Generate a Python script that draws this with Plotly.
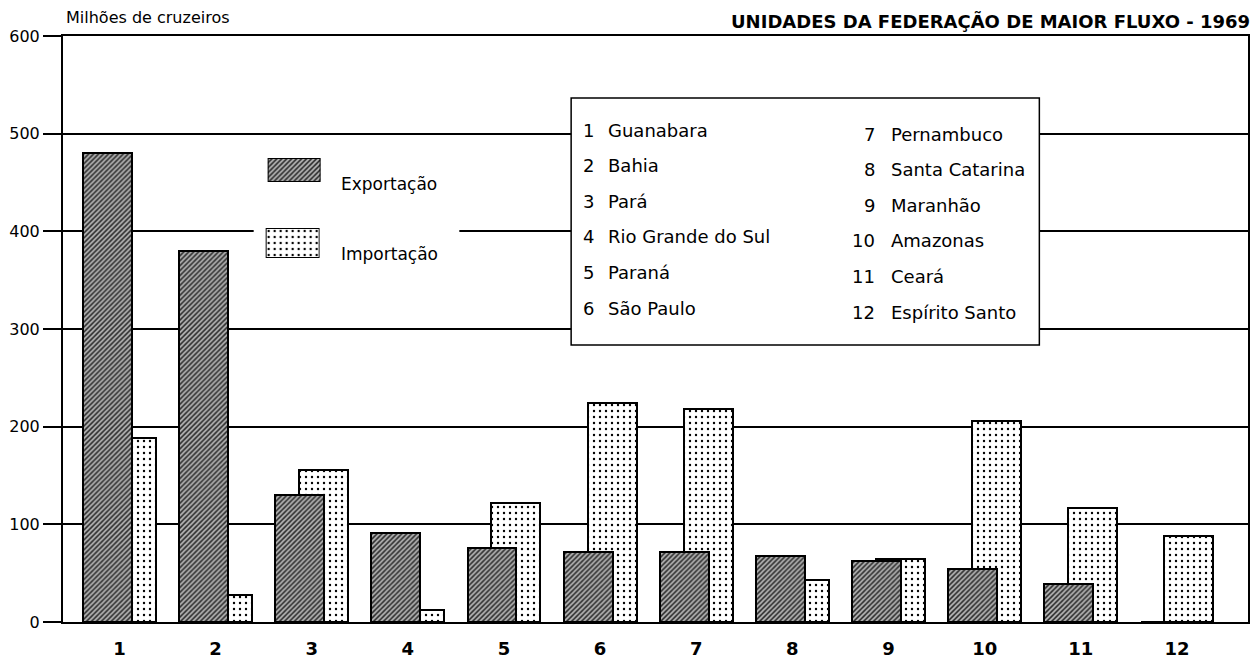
import plotly.graph_objects as go

# ---------------- data ----------------
estados_num = ["1", "2", "3", "4", "5", "6", "7", "8", "9", "10", "11", "12"]
estados_nome = ["Guanabara", "Bahia", "Pará", "Rio Grande do Sul", "Paraná", "São Paulo",
                "Pernambuco", "Santa Catarina", "Maranhão", "Amazonas", "Ceará", "Espírito Santo"]
exportacao = [480, 380, 130, 91, 76, 72, 72, 68, 62, 54, 39, 0]
importacao = [188, 28, 156, 12, 122, 224, 218, 43, 65, 206, 117, 88]
y_ticks = [0, 100, 200, 300, 400, 500, 600]
titulo = "UNIDADES DA FEDERAÇÃO DE MAIOR FLUXO - 1969"
unidade = "Milhões de cruzeiros"
serie_nomes = ["Exportação", "Importação"]

# ---------------- geometry ----------------
W, H = 1257, 666
L, R, T, B = 63, 7, 36, 44
X_RANGE = [0.4133, 12.739]
Y_RANGE = [0, 600]
pos = list(range(1, len(estados_num) + 1))

plot_w = W - L - R
plot_h = H - T - B


def px2x(px):  # pixel -> paper x
    return (px - L) / plot_w


def py2y(py):  # pixel -> paper y
    return (H - B - py) / plot_h


def px2dx(px):  # pixel -> data x
    return X_RANGE[0] + (px - L) / plot_w * (X_RANGE[1] - X_RANGE[0])


def py2dy(py):  # pixel -> data y
    return (H - B - py) / plot_h * (Y_RANGE[1] - Y_RANGE[0])


FONT = "DejaVu Sans"
BAR_W = 0.509

pat_exp = dict(shape="/", fgcolor="#262626", bgcolor="#b4b4b4", size=3.5, solidity=0.45, fillmode="replace")
pat_imp = dict(shape=".", fgcolor="black", bgcolor="white", size=6, solidity=0.12, fillmode="replace")

fig = go.Figure()
fig.add_trace(go.Bar(
    x=pos, y=importacao, name=serie_nomes[1], width=BAR_W, offset=-0.13,
    marker=dict(color="white", line=dict(color="black", width=2), pattern=pat_imp),
    hoverinfo="skip", showlegend=False))
fig.add_trace(go.Bar(
    x=pos, y=exportacao, name=serie_nomes[0], width=BAR_W, offset=-0.379,
    marker=dict(color="#777", line=dict(color="black", width=2), pattern=pat_exp),
    hoverinfo="skip", showlegend=False))

# legend swatches (drawn with small helper subplots so the patterns match)
fig.add_trace(go.Bar(x=[0], y=[1], width=[1], xaxis="x2", yaxis="y2",
                     marker=dict(color="#777", line=dict(color="black", width=2), pattern=pat_exp),
                     hoverinfo="skip", showlegend=False))
fig.add_trace(go.Bar(x=[0], y=[1], width=[1], xaxis="x3", yaxis="y3",
                     marker=dict(color="white", line=dict(color="black", width=2), pattern=pat_imp),
                     hoverinfo="skip", showlegend=False))

sw_axis = dict(visible=False, showgrid=False, zeroline=False, fixedrange=True)

fig.update_layout(
    width=W, height=H,
    margin=dict(l=L, r=R, t=T, b=B),
    paper_bgcolor="white", plot_bgcolor="white",
    barmode="overlay", bargap=0,
    showlegend=False,
    font=dict(family=FONT, color="black"),
    xaxis=dict(range=X_RANGE, tickvals=pos, ticktext=estados_num, showgrid=False,
               showline=True, linecolor="black", linewidth=2, mirror=True,
               ticks="", zeroline=False, ticklabelstandoff=9,
               tickfont=dict(family=FONT, size=18, color="black", weight="bold")),
    yaxis=dict(range=Y_RANGE, tickvals=y_ticks, showgrid=True, gridcolor="black", gridwidth=1.5,
               showline=True, linecolor="black", linewidth=2, mirror=True,
               ticks="outside", ticklen=18, tickwidth=1.5, tickcolor="black",
               zeroline=False, tickfont=dict(family=FONT, size=16, color="black")),
    xaxis2=dict(domain=[px2x(268), px2x(321)], range=[-0.5, 0.5], anchor="y2", **sw_axis),
    yaxis2=dict(domain=[py2y(182), py2y(158)], range=[0, 1], anchor="x2", **sw_axis),
    xaxis3=dict(domain=[px2x(266), px2x(320)], range=[-0.5, 0.5], anchor="y3", **sw_axis),
    yaxis3=dict(domain=[py2y(258), py2y(228)], range=[0, 1], anchor="x3", **sw_axis),
)

shapes = [
    # white patch behind the series legend (breaks the gridline)
    dict(type="rect", xref="x", yref="y", layer="between",
         x0=px2dx(254), x1=px2dx(460), y0=py2dy(268), y1=py2dy(148),
         fillcolor="white", line=dict(width=0)),
    # box with the list of states
    dict(type="rect", xref="x", yref="y", layer="between",
         x0=px2dx(572), x1=px2dx(1041), y0=py2dy(345), y1=py2dy(98),
         fillcolor="white", line=dict(color="black", width=1.5)),
]
fig.update_layout(shapes=shapes)

ann = []
ann.append(dict(text=titulo, xref="paper", yref="paper", x=px2x(1254), y=py2y(21),
                xanchor="right", yanchor="middle", showarrow=False,
                font=dict(family=FONT, size=18, color="black", weight="bold")))
ann.append(dict(text=unidade, xref="paper", yref="paper", x=px2x(64), y=py2y(17),
                xanchor="left", yanchor="middle", showarrow=False,
                font=dict(family=FONT, size=16, color="black")))
ann.append(dict(text=serie_nomes[0], xref="paper", yref="paper", x=px2x(339), y=py2y(184),
                xanchor="left", yanchor="middle", showarrow=False,
                font=dict(family=FONT, size=17, color="black")))
ann.append(dict(text=serie_nomes[1], xref="paper", yref="paper", x=px2x(339), y=py2y(254),
                xanchor="left", yanchor="middle", showarrow=False,
                font=dict(family=FONT, size=17, color="black")))

for k in range(12):
    col = k // 6
    row = k % 6
    if col == 0:
        num_x, name_x, yc = 597, 607, 130 + 35.6 * row
    else:
        num_x, name_x, yc = 878, 890, 134 + 35.6 * row
    ann.append(dict(text=estados_num[k], xref="paper", yref="paper", x=px2x(num_x), y=py2y(yc),
                    xanchor="right", yanchor="middle", showarrow=False,
                    font=dict(family=FONT, size=18, color="black")))
    ann.append(dict(text=estados_nome[k], xref="paper", yref="paper", x=px2x(name_x), y=py2y(yc),
                    xanchor="left", yanchor="middle", showarrow=False,
                    font=dict(family=FONT, size=18, color="black")))

fig.update_layout(annotations=ann)

# remove the page's default body margin so the figure sits at the window's origin
fig.write_html("out.html", config={"displayModeBar": False},
               post_script="document.body.style.margin='0';")
